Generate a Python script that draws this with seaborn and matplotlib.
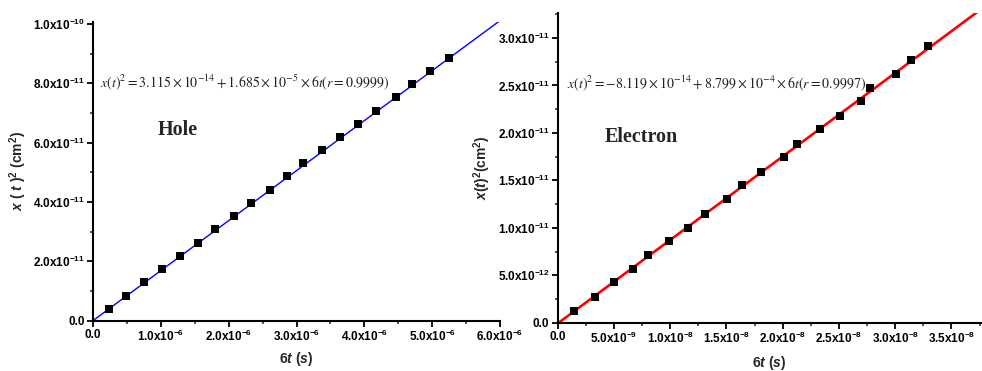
import numpy as np
import pandas as pd
import seaborn as sns
import matplotlib
matplotlib.use("Agg")
import matplotlib.pyplot as plt
from matplotlib.ticker import MultipleLocator, FuncFormatter

# ---------------- data ----------------
hole_6t = [0.231, 0.490, 0.750, 1.015, 1.279, 1.549, 1.804, 2.078, 2.324, 2.603,
           2.853, 3.103, 3.378, 3.647, 3.907, 4.176, 4.466, 4.701, 4.975, 5.246]   # x1e-6 s
hole_x2 = [0.404, 0.842, 1.29, 1.74, 2.18, 2.63, 3.08, 3.52, 3.96, 4.41,
           4.87, 5.30, 5.75, 6.20, 6.63, 7.08, 7.53, 7.98, 8.43, 8.87]              # x1e-11 cm^2
elec_6t = [1.47, 3.29, 5.0, 6.66, 8.02, 9.88, 11.57, 13.08, 15.07, 16.4,
           18.06, 20.12, 21.3, 23.3, 25.1, 27.0, 27.8, 30.1, 31.4, 32.9]            # x1e-9 s
elec_x2 = [0.126, 0.274, 0.425, 0.565, 0.713, 0.86, 1.0, 1.147, 1.30, 1.446,
           1.59, 1.744, 1.888, 2.036, 2.18, 2.334, 2.47, 2.62, 2.765, 2.916]        # x1e-11 cm^2

hole_fit = (3.115e-14, 1.685e-5)      # intercept, slope
elec_fit = (-8.119e-14, 8.799e-4)
hole_eq = (r"$\mathit{x}(\mathit{t})^2 = 3.115\times10^{-14} + 1.685\times10^{-5}"
           r"\times6\mathit{t}(\mathit{r} = 0.9999)$")
elec_eq = (r"$\mathit{x}(\mathit{t})^2 = -8.119\times10^{-14} + 8.799\times10^{-4}"
           r"\times6\mathit{t}(\mathit{r} = 0.9997)$")

hole_df = pd.DataFrame({"t": np.array(hole_6t) * 1e-6, "x2": np.array(hole_x2) * 1e-11})
elec_df = pd.DataFrame({"t": np.array(elec_6t) * 1e-9, "x2": np.array(elec_x2) * 1e-11})

# ---------------- style ----------------
sns.set_style("ticks")
plt.rcParams["font.family"] = ["Liberation Sans", "DejaVu Sans"]
plt.rcParams["mathtext.fontset"] = "custom"
plt.rcParams["mathtext.rm"] = "Liberation Sans:bold"
plt.rcParams["mathtext.bf"] = "Liberation Sans:bold"
plt.rcParams["mathtext.it"] = "Liberation Sans:bold:italic"
plt.rcParams["mathtext.default"] = "rm"

fig = plt.figure(figsize=(9.82, 3.71), dpi=100)
ax1 = fig.add_axes([93/982, 1-320.7/371, 407/982, (320.7-22)/371])
ax2 = fig.add_axes([557.7/982, 1-322.7/371, 423/982, (322.7-13.3)/371])


def fmt(v, pos):
    if abs(v) < 1e-30:
        return "0.0"
    e = int(np.floor(np.log10(abs(v)) + 1e-9))
    m = v / 10**e
    return f"{m:.1f}x10$^{{{e}}}$"


def style(ax):
    for s in ["top", "right"]:
        ax.spines[s].set_visible(False)
    for s in ["left", "bottom"]:
        ax.spines[s].set_linewidth(1.5)
        ax.spines[s].set_color("black")
    ax.tick_params(which="major", direction="out", length=4, width=1.3, labelsize=8.5, colors="black", pad=2)
    ax.tick_params(which="minor", direction="out", length=2.5, width=1.1)
    ax.xaxis.set_major_formatter(FuncFormatter(fmt))
    ax.yaxis.set_major_formatter(FuncFormatter(fmt))
    for lab in ax.get_xticklabels() + ax.get_yticklabels():
        lab.set_fontweight("bold")


# ---- Hole panel ----
lx = np.array([0.0, 6.0e-6])
sns.lineplot(x=lx, y=hole_fit[0] + hole_fit[1] * lx, ax=ax1, color="#0000ff", lw=1.0)
sns.scatterplot(data=hole_df, x="t", y="x2", ax=ax1, marker="s", s=28, color="black",
                edgecolor="black", linewidth=0, zorder=3)
ax1.set_xlim(0, 6.0e-6)
ax1.set_ylim(0, 1.0067e-10)
ax1.xaxis.set_major_locator(MultipleLocator(1e-6))
ax1.xaxis.set_minor_locator(MultipleLocator(0.5e-6))
ax1.yaxis.set_major_locator(MultipleLocator(2e-11))
ax1.yaxis.set_minor_locator(MultipleLocator(1e-11))
style(ax1)
ax1.set_xlabel(r"$\mathit{6t}$ $(\mathit{s})$", fontsize=10, fontweight="bold")
ax1.set_ylabel(r"$\mathit{x}$ ( $\mathit{t}$ )$^2$ (cm$^2$)", fontsize=10, fontweight="bold")
ax1.xaxis.set_label_coords(0.5, -0.097)
ax1.yaxis.set_label_coords(-0.157, 0.5)
ax1.text(0.017, 0.80, hole_eq, transform=ax1.transAxes, fontsize=10, va="center", ha="left",
         math_fontfamily="stix", color="#222222")
ax1.text(0.16, 0.638, "Hole", transform=ax1.transAxes, fontsize=14.5, fontweight="bold",
         family="Liberation Serif", va="center", ha="left")

# ---- Electron panel ----
ex = np.array([0.0, 3.76e-8])
sns.lineplot(x=ex, y=elec_fit[0] + elec_fit[1] * ex, ax=ax2, color="#ff0000", lw=1.9)
sns.scatterplot(data=elec_df, x="t", y="x2", ax=ax2, marker="s", s=28, color="black",
                edgecolor="black", linewidth=0, zorder=3)
ax2.set_xlim(0, 3.76e-8)
ax2.set_ylim(0, 3.26e-11)
ax2.xaxis.set_major_locator(MultipleLocator(5e-9))
ax2.xaxis.set_minor_locator(MultipleLocator(2.5e-9))
ax2.yaxis.set_major_locator(MultipleLocator(5e-12))
ax2.yaxis.set_minor_locator(MultipleLocator(2.5e-12))
style(ax2)
ax2.set_xlabel(r"$\mathit{6t}$ $(\mathit{s})$", fontsize=10, fontweight="bold")
ax2.set_ylabel(r"$\mathit{x}$($\mathit{t}$)$^2$(cm$^2$)", fontsize=10, fontweight="bold")
ax2.xaxis.set_label_coords(0.5, -0.10)
ax2.yaxis.set_label_coords(-0.153, 0.5)
ax2.text(0.022, 0.775, elec_eq, transform=ax2.transAxes, fontsize=10, va="center", ha="left",
         math_fontfamily="stix", color="#222222")
ax2.text(0.112, 0.60, "Electron", transform=ax2.transAxes, fontsize=14.5, fontweight="bold",
         family="Liberation Serif", va="center", ha="left")

fig.savefig("out.png", dpi=100)
